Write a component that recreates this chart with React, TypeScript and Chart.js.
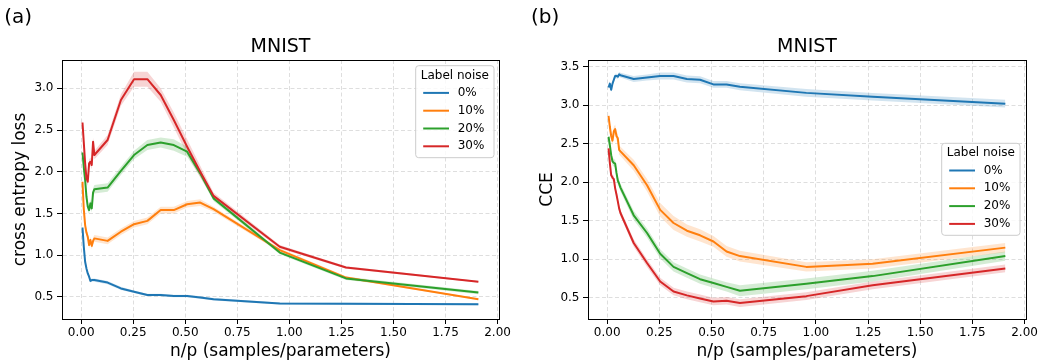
import React, { useEffect, useRef } from "react";
import { Chart, registerables } from "chart.js";

Chart.register(...registerables);

// ---------- data ----------
const xValues = [0.0064, 0.0127, 0.0191, 0.0254, 0.0318, 0.0382, 0.0445, 0.0509, 0.0572, 0.0636, 0.127, 0.191, 0.254, 0.318, 0.382, 0.445, 0.509, 0.572, 0.636, 0.954, 1.272, 1.908];
const seriesLabels = ["0%", "10%", "20%", "30%"];
const legendTitle = "Label noise";
const xTickValues = [0, 0.25, 0.5, 0.75, 1.0, 1.25, 1.5, 1.75, 2.0];
const yTickValuesA = [0.5, 1.0, 1.5, 2.0, 2.5, 3.0];
const yTickValuesB = [0.5, 1.0, 1.5, 2.0, 2.5, 3.0, 3.5];

// panel (a): cross entropy loss
const lossBlue = [1.33, 1.10, 0.92, 0.84, 0.78, 0.74, 0.69, 0.70, 0.70, 0.70, 0.67, 0.60, 0.56, 0.52, 0.52, 0.51, 0.51, 0.49, 0.47, 0.42, 0.415, 0.41];
const lossOrange = [1.88, 1.55, 1.36, 1.27, 1.22, 1.12, 1.18, 1.11, 1.17, 1.20, 1.17, 1.28, 1.37, 1.41, 1.54, 1.54, 1.61, 1.63, 1.55, 1.06, 0.73, 0.47];
const lossGreen = [2.23, 2.05, 1.90, 1.70, 1.58, 1.54, 1.62, 1.56, 1.75, 1.79, 1.81, 2.01, 2.20, 2.32, 2.35, 2.32, 2.24, 1.98, 1.68, 1.03, 0.72, 0.55];
const lossRed = [2.59, 2.35, 2.10, 1.92, 1.88, 2.10, 2.12, 2.08, 2.36, 2.20, 2.38, 2.86, 3.11, 3.11, 2.92, 2.62, 2.30, 2.00, 1.71, 1.10, 0.85, 0.68];
const lossSpreadBlue = [0.02, 0.02, 0.02, 0.02, 0.02, 0.02, 0.02, 0.02, 0.02, 0.02, 0.02, 0.02, 0.015, 0.015, 0.015, 0.015, 0.015, 0.015, 0.015, 0.012, 0.012, 0.012];
const lossSpreadOrange = [0.04, 0.04, 0.04, 0.04, 0.04, 0.04, 0.04, 0.04, 0.04, 0.04, 0.04, 0.04, 0.04, 0.04, 0.04, 0.04, 0.04, 0.04, 0.03, 0.02, 0.015, 0.01];
const lossSpreadGreen = [0.05, 0.05, 0.05, 0.05, 0.05, 0.05, 0.05, 0.05, 0.05, 0.05, 0.05, 0.05, 0.05, 0.06, 0.06, 0.07, 0.06, 0.04, 0.03, 0.02, 0.02, 0.02];
const lossSpreadRed = [0.05, 0.05, 0.05, 0.05, 0.05, 0.05, 0.05, 0.05, 0.05, 0.05, 0.06, 0.07, 0.09, 0.09, 0.08, 0.09, 0.09, 0.07, 0.04, 0.02, 0.015, 0.01];

// panel (b): CCE
const cceBlue = [3.23, 3.28, 3.20, 3.28, 3.33, 3.38, 3.38, 3.37, 3.40, 3.39, 3.34, 3.36, 3.38, 3.38, 3.34, 3.33, 3.27, 3.27, 3.24, 3.16, 3.11, 3.02];
const cceOrange = [2.86, 2.72, 2.60, 2.54, 2.66, 2.69, 2.60, 2.57, 2.42, 2.40, 2.22, 1.96, 1.64, 1.47, 1.37, 1.31, 1.23, 1.10, 1.04, 0.90, 0.94, 1.15];
const cceGreen = [2.59, 2.48, 2.35, 2.27, 2.25, 2.24, 2.12, 2.02, 1.98, 1.93, 1.57, 1.34, 1.07, 0.90, 0.82, 0.74, 0.69, 0.64, 0.59, 0.68, 0.78, 1.04];
const cceRed = [2.44, 2.25, 2.09, 2.06, 2.04, 1.92, 1.84, 1.75, 1.66, 1.60, 1.21, 0.95, 0.71, 0.58, 0.53, 0.49, 0.45, 0.46, 0.43, 0.52, 0.66, 0.88];
const cceSpreadBlue = [0.03, 0.03, 0.03, 0.03, 0.03, 0.03, 0.03, 0.03, 0.03, 0.03, 0.04, 0.04, 0.045, 0.045, 0.045, 0.045, 0.045, 0.045, 0.045, 0.05, 0.05, 0.05];
const cceSpreadOrange = [0.06, 0.06, 0.06, 0.06, 0.06, 0.06, 0.06, 0.06, 0.06, 0.06, 0.07, 0.08, 0.09, 0.09, 0.08, 0.08, 0.07, 0.07, 0.07, 0.06, 0.06, 0.06];
const cceSpreadGreen = [0.05, 0.05, 0.05, 0.05, 0.05, 0.05, 0.05, 0.05, 0.05, 0.05, 0.06, 0.06, 0.06, 0.06, 0.06, 0.06, 0.06, 0.06, 0.07, 0.07, 0.07, 0.06];
const cceSpreadRed = [0.04, 0.04, 0.04, 0.04, 0.04, 0.04, 0.04, 0.04, 0.04, 0.04, 0.05, 0.05, 0.05, 0.05, 0.05, 0.05, 0.05, 0.05, 0.05, 0.05, 0.05, 0.05];

// ---------- style ----------
const FONT = "'DejaVu Sans', sans-serif";
const LINE_COLORS = ["#1f77b4", "#ff7f0e", "#2ca02c", "#d62728"];
const BAND_COLORS = ["rgba(31,119,180,0.2)", "rgba(255,127,14,0.2)", "rgba(44,160,44,0.2)", "rgba(214,39,40,0.2)"];

type PanelSpec = {
  left: number;
  width: number;
  height: number;
  series: number[][];
  spreads: number[][];
  yMin: number;
  yMax: number;
  yTicks: number[];
  yTitle: string;
  yTitlePad: number;
  yAxisWidth: number;
  padRight: number;
  title: string;
  panelLabel: string;
  panelLabelX: number;
  legendX: number;
  legendY: number;
};

function align(p: number) {
  return Math.round(p - 0.5) + 0.5;
}

const decorPlugin = {
  id: "decor",
  afterDraw(chart: any, _args: any, opts: any) {
    const { ctx, chartArea: ca } = chart;
    ctx.save();
    ctx.setLineDash([]);
    // frame (all four spines)
    ctx.strokeStyle = "#000";
    ctx.lineWidth = 1;
    const l = align(ca.left), r = align(ca.right), t = align(ca.top), b = align(ca.bottom);
    ctx.strokeRect(l, t, r - l, b - t);

    // title
    ctx.fillStyle = "#000";
    ctx.font = `19px ${FONT}`;
    ctx.textAlign = "center";
    ctx.textBaseline = "alphabetic";
    ctx.fillText(opts.title, (ca.left + ca.right) / 2, 51.7);

    // panel label
    ctx.font = `20px ${FONT}`;
    ctx.textAlign = "left";
    ctx.fillText(opts.panelLabel, opts.panelLabelX, 23.4);

    // legend
    const lx = opts.legendX, ly = opts.legendY, lw = 78.3, lh = 92;
    ctx.beginPath();
    const rr = 3;
    ctx.moveTo(lx + rr, ly);
    ctx.lineTo(lx + lw - rr, ly);
    ctx.arcTo(lx + lw, ly, lx + lw, ly + rr, rr);
    ctx.lineTo(lx + lw, ly + lh - rr);
    ctx.arcTo(lx + lw, ly + lh, lx + lw - rr, ly + lh, rr);
    ctx.lineTo(lx + rr, ly + lh);
    ctx.arcTo(lx, ly + lh, lx, ly + lh - rr, rr);
    ctx.lineTo(lx, ly + rr);
    ctx.arcTo(lx, ly, lx + rr, ly, rr);
    ctx.closePath();
    ctx.fillStyle = "rgba(255,255,255,0.8)";
    ctx.fill();
    ctx.strokeStyle = "#cccccc";
    ctx.lineWidth = 1;
    ctx.stroke();

    ctx.fillStyle = "#000";
    ctx.font = `12px ${FONT}`;
    ctx.textAlign = "center";
    ctx.textBaseline = "middle";
    ctx.fillText(legendTitle, lx + lw / 2, ly + 10);
    ctx.textAlign = "left";
    seriesLabels.forEach((lab, i) => {
      const yy = ly + 27.2 + i * 17.8;
      ctx.strokeStyle = LINE_COLORS[i];
      ctx.lineWidth = 2;
      ctx.beginPath();
      ctx.moveTo(lx + 7.5, yy);
      ctx.lineTo(lx + 33.3, yy);
      ctx.stroke();
      ctx.fillStyle = "#000";
      ctx.fillText(lab, lx + 42, yy);
    });
    ctx.restore();
  },
};

function buildConfig(spec: PanelSpec): any {
  const toPts = (vals: number[]) => xValues.map((x, i) => ({ x, y: vals[i] }));
  const datasets: any[] = [];
  // lines first (dataset 0 is drawn on top) -> red on top
  for (let i = spec.series.length - 1; i >= 0; i--) {
    datasets.push({
      label: seriesLabels[i],
      data: toPts(spec.series[i]),
      borderColor: LINE_COLORS[i],
      backgroundColor: LINE_COLORS[i],
      borderWidth: 2,
      pointRadius: 0,
      tension: 0,
      fill: false,
      borderJoinStyle: "round",
    });
  }
  // spread bands
  for (let i = 0; i < spec.series.length; i++) {
    const vals = spec.series[i];
    const sp = spec.spreads[i];
    datasets.push({
      label: seriesLabels[i] + " upper",
      data: toPts(vals.map((v, k) => v + sp[k])),
      borderWidth: 0,
      borderColor: "rgba(0,0,0,0)",
      backgroundColor: BAND_COLORS[i],
      pointRadius: 0,
      tension: 0,
      fill: "+1",
    });
    datasets.push({
      label: seriesLabels[i] + " lower",
      data: toPts(vals.map((v, k) => v - sp[k])),
      borderWidth: 0,
      borderColor: "rgba(0,0,0,0)",
      backgroundColor: BAND_COLORS[i],
      pointRadius: 0,
      tension: 0,
      fill: false,
    });
  }

  return {
    type: "line",
    data: { datasets },
    options: {
      responsive: false,
      animation: false,
      devicePixelRatio: 1,
      events: [],
      layout: { padding: { top: 60, right: spec.padRight, bottom: 0, left: 0 } },
      plugins: {
        legend: { display: false },
        tooltip: { enabled: false },
        title: { display: false },
        filler: { drawTime: "beforeDatasetsDraw" },
        decor: {
          title: spec.title,
          panelLabel: spec.panelLabel,
          panelLabelX: spec.panelLabelX,
          legendX: spec.legendX,
          legendY: spec.legendY,
        },
      },
      scales: {
        x: {
          type: "linear",
          min: -0.092,
          max: 2.007,
          afterBuildTicks: (scale: any) => {
            scale.ticks = xTickValues.map((v) => ({ value: v }));
          },
          afterFit: (scale: any) => {
            scale.height = spec.height - 319;
            scale.paddingLeft = 0;
            scale.paddingRight = 0;
          },
          ticks: {
            autoSkip: false,
            maxRotation: 0,
            padding: 2,
            color: "#000",
            font: { family: FONT, size: 12 },
            callback: (v: any) => Number(v).toFixed(2),
          },
          grid: {
            color: "rgba(0,0,0,0.13)",
            lineWidth: 1,
            tickLength: 5,
            tickColor: "#000",
            tickWidth: 1,
            tickBorderDash: [],
          },
          border: { display: true, color: "#000", width: 1, dash: [4, 2.5] },
          title: {
            display: true,
            text: "n/p (samples/parameters)",
            color: "#000",
            font: { family: FONT, size: 17 },
            padding: { top: 0, bottom: 1.7 },
          },
        },
        y: {
          type: "linear",
          min: spec.yMin,
          max: spec.yMax,
          afterBuildTicks: (scale: any) => {
            scale.ticks = spec.yTicks.map((v) => ({ value: v }));
          },
          afterFit: (scale: any) => {
            scale.width = spec.yAxisWidth;
            scale.paddingTop = 0;
            scale.paddingBottom = 0;
          },
          ticks: {
            autoSkip: false,
            padding: 3.5,
            color: "#000",
            font: { family: FONT, size: 12 },
            callback: (v: any) => Number(v).toFixed(1),
          },
          grid: {
            color: "rgba(0,0,0,0.13)",
            lineWidth: 1,
            tickLength: 5,
            tickColor: "#000",
            tickWidth: 1,
            tickBorderDash: [],
          },
          border: { display: true, color: "#000", width: 1, dash: [4, 2.5] },
          title: {
            display: true,
            text: spec.yTitle,
            color: "#000",
            font: { family: FONT, size: 17 },
            padding: { top: spec.yTitlePad, bottom: 0 },
          },
        },
      },
    },
    plugins: [decorPlugin],
  };
}

function Panel({ spec }: { spec: PanelSpec }) {
  const ref = useRef<HTMLCanvasElement>(null);
  useEffect(() => {
    const chart = new Chart(ref.current as HTMLCanvasElement, buildConfig(spec));
    return () => chart.destroy();
  }, []);
  return (
    <canvas
      ref={ref}
      width={spec.width}
      height={spec.height}
      style={{ position: "absolute", left: spec.left, top: 0, width: spec.width, height: spec.height }}
    />
  );
}

const panelA: PanelSpec = {
  left: 0,
  width: 519,
  height: 363,
  series: [lossBlue, lossOrange, lossGreen, lossRed],
  spreads: [lossSpreadBlue, lossSpreadOrange, lossSpreadGreen, lossSpreadRed],
  yMin: 0.233,
  yMax: 3.34,
  yTicks: yTickValuesA,
  yTitle: "cross entropy loss",
  yTitlePad: 10.3,
  yAxisWidth: 62,
  padRight: 20,
  title: "MNIST",
  panelLabel: "(a)",
  panelLabelX: 4.2,
  legendX: 415.7,
  legendY: 65.7,
};

const panelB: PanelSpec = {
  left: 519,
  width: 519,
  height: 363,
  series: [cceBlue, cceOrange, cceGreen, cceRed],
  spreads: [cceSpreadBlue, cceSpreadOrange, cceSpreadGreen, cceSpreadRed],
  yMin: 0.223,
  yMax: 3.587,
  yTicks: yTickValuesB,
  yTitle: "CCE",
  yTitlePad: 18.1,
  yAxisWidth: 69,
  padRight: 12,
  title: "MNIST",
  panelLabel: "(b)",
  panelLabelX: 11.9,
  legendX: 422.7,
  legendY: 143.3,
};

export default function App() {
  return (
    <div style={{ position: "absolute", left: 0, top: 0, width: 1038, height: 363, background: "#fff" }}>
      <Panel spec={panelA} />
      <Panel spec={panelB} />
    </div>
  );
}
